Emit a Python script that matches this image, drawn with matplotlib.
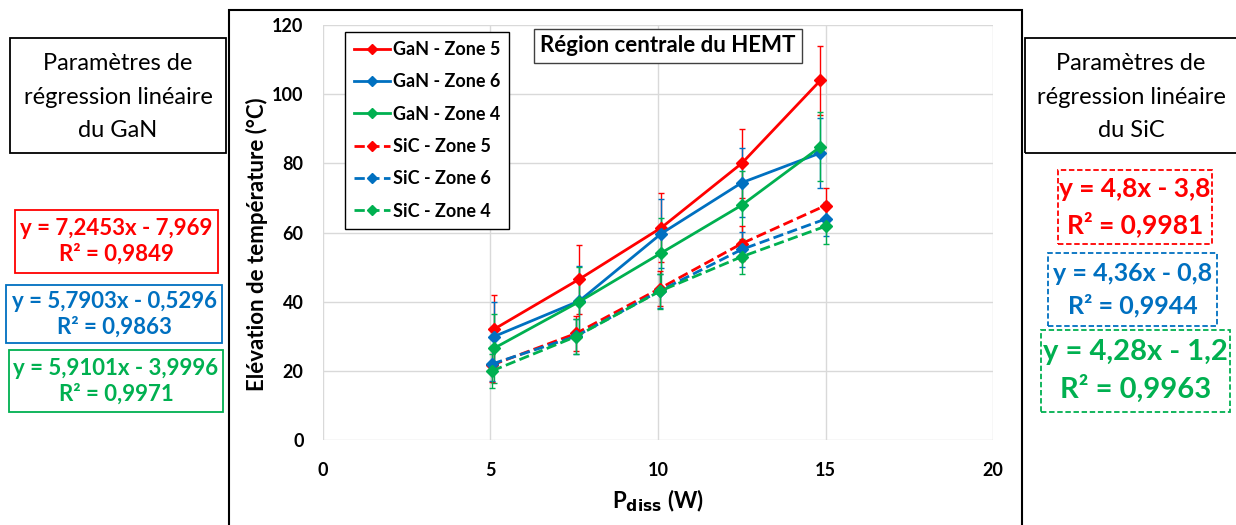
import matplotlib.pyplot as plt
from matplotlib.patches import Rectangle
from matplotlib.lines import Line2D

plt.rcParams['font.family'] = ['Lato', 'DejaVu Sans']

W, H = 1236, 525

# data
x_gan = [5.1, 7.65, 10.1, 12.5, 14.85]
x_sic = [5.05, 7.55, 10.05, 12.5, 15.0]
gan_z5 = [32, 46.5, 61.4, 80, 104]
gan_z6 = [29.9, 40.2, 59.7, 74.4, 83]
gan_z4 = [26.5, 40, 54.1, 67.9, 84.8]
sic_z5 = [21.7, 30.8, 43.8, 56.8, 67.8]
sic_z6 = [22, 30, 43.1, 55.1, 63.9]
sic_z4 = [20, 29.9, 43, 53, 61.8]
err_gan = 10
err_sic = 5

red = '#FF0000'
blue = '#0070C0'
green = '#00B050'

series = [
    ('GaN - Zone 5', x_gan, gan_z5, err_gan, red, '-'),
    ('GaN - Zone 6', x_gan, gan_z6, err_gan, blue, '-'),
    ('GaN - Zone 4', x_gan, gan_z4, err_gan, green, '-'),
    ('SiC - Zone 5', x_sic, sic_z5, err_sic, red, '--'),
    ('SiC - Zone 6', x_sic, sic_z6, err_sic, blue, '--'),
    ('SiC - Zone 4', x_sic, sic_z4, err_sic, green, '--'),
]


def fx(px):
    return px / W


def fy(py):
    return 1 - py / H


fig = plt.figure(figsize=(W / 100, H / 100), dpi=100)
ax = fig.add_axes([fx(323), fy(440), fx(993) - fx(323), fy(25) - fy(440)])

handles = []
for name, xs, ys, e, c, ls in series:
    ax.errorbar(xs, ys, yerr=e, color=c, ls=ls, lw=2, marker='D', ms=6,
                elinewidth=1, capsize=2, capthick=1, zorder=3)
    handles.append(Line2D([], [], color=c, ls=ls, lw=2, marker='D', ms=5, label=name))

ax.set_xlim(0, 20)
ax.set_ylim(0, 120)
ax.set_xticks([0, 5, 10, 15, 20])
ax.set_yticks(range(0, 121, 20))
ax.grid(True, color='#d9d9d9', lw=1)
ax.set_axisbelow(True)
for s in ax.spines.values():
    s.set_visible(False)
ax.tick_params(axis='y', length=0, labelsize=13, pad=14)
ax.tick_params(axis='x', length=0, labelsize=13, pad=16)
for lab in ax.get_xticklabels() + ax.get_yticklabels():
    lab.set_fontweight('bold')

ax.set_ylabel('Elévation de température (°C)', fontsize=16, fontweight='bold')
ax.yaxis.set_label_coords(-0.082, 0.473)
ax.set_xlabel(r'P$_{\mathbf{diss}}$ (W)', fontsize=16, fontweight='bold', labelpad=6)

leg = ax.legend(handles=handles, loc='upper left', bbox_to_anchor=(0.033, 0.983),
                prop={'weight': 'bold', 'size': 13},
                handlelength=2.0, handletextpad=0.15, labelspacing=0.85,
                fancybox=False, edgecolor='black', framealpha=1, borderpad=0.5,
                borderaxespad=0)
leg.get_frame().set_linewidth(1)

ax.text(0.515, 0.975, 'Région centrale du HEMT', transform=ax.transAxes, ha='center',
        va='top', fontsize=16, fontweight='bold',
        bbox=dict(boxstyle='square,pad=0.3', fc='white', ec='#404040', lw=1))

# outer frame around the chart
fig.patches.append(Rectangle((fx(229), fy(528)), fx(1022) - fx(229), fy(10) - fy(528),
                             transform=fig.transFigure, fill=False, ec='black', lw=1.5))


def box(x0, y0, x1, y1, ec, ls='-'):
    fig.patches.append(Rectangle((fx(x0), fy(y1)), fx(x1) - fx(x0), fy(y0) - fy(y1),
                                 transform=fig.transFigure, fill=False, ec=ec, lw=1.3, ls=ls))


# side header boxes
box(10, 38, 226, 153, 'black')
fig.text(fx(118), fy(97), 'Paramètres de\nrégression linéaire\ndu GaN', ha='center',
         va='center', fontsize=17, linespacing=1.75)
box(1025, 38, 1240, 153, 'black')
fig.text(fx(1131), fy(97), 'Paramètres de\nrégression linéaire\ndu SiC', ha='center',
         va='center', fontsize=17, linespacing=1.75)

# GaN regression boxes
gan_eq = [('y = 7,2453x - 7,969\nR² = 0,9849', red, (15, 210, 218, 273)),
          ('y = 5,7903x - 0,5296\nR² = 0,9863', blue, (6, 285, 222, 343)),
          ('y = 5,9101x - 3,9996\nR² = 0,9971', green, (9, 350, 223, 412))]
for txt, c, (x0, y0, x1, y1) in gan_eq:
    box(x0, y0, x1, y1, c)
    fig.text(fx((x0 + x1) / 2), fy((y0 + y1) / 2), txt, ha='center', va='center',
             color=c, fontsize=16, fontweight='bold', linespacing=1.25)

# SiC regression boxes
sic_eq = [('y = 4,8x - 3,8\nR² = 0,9981', red, (1058, 170, 1212, 244), 19),
          ('y = 4,36x - 0,8\nR² = 0,9944', blue, (1048, 253, 1217, 326), 18),
          ('y = 4,28x - 1,2\nR² = 0,9963', green, (1041, 330, 1230, 412), 21)]
for txt, c, (x0, y0, x1, y1), fs in sic_eq:
    box(x0, y0, x1, y1, c, ls=(0, (3, 1.5)))
    fig.text(fx((x0 + x1) / 2), fy((y0 + y1) / 2), txt, ha='center', va='center',
             color=c, fontsize=fs, fontweight='bold', linespacing=1.45)

fig.savefig('out.png', dpi=100)
